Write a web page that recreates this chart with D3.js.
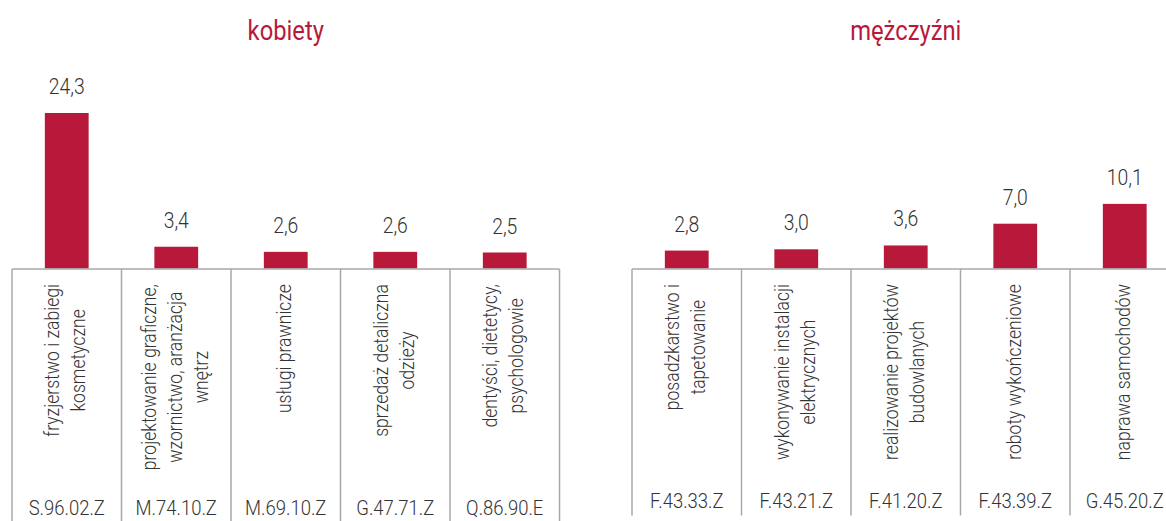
<!DOCTYPE html>
<html>
<head>
<meta charset="utf-8">
<script src="https://cdn.jsdelivr.net/npm/d3@7"></script>
<style>
  html, body { margin: 0; padding: 0; background: #fff; }
  svg { display: block; }
  text { font-family: Roboto, "Noto Sans", sans-serif; }
</style>
</head>
<body>
<svg id="chart" width="1166" height="521"></svg>
<script>
// ---- data ----
const panelTitles = ["kobiety", "mężczyźni"];

const womenCodes = ["S.96.02.Z", "M.74.10.Z", "M.69.10.Z", "G.47.71.Z", "Q.86.90.E"];
const womenLabels = [
  ["fryzjerstwo i zabiegi", "kosmetyczne"],
  ["projektowanie graficzne,", "wzornictwo, aranżacja", "wnętrz"],
  ["usługi prawnicze"],
  ["sprzedaż detaliczna", "odzieży"],
  ["dentyści, dietetycy,", "psychologowie"]
];
const womenValues = [24.3, 3.4, 2.6, 2.6, 2.5];

const menCodes = ["F.43.33.Z", "F.43.21.Z", "F.41.20.Z", "F.43.39.Z", "G.45.20.Z"];
const menLabels = [
  ["posadzkarstwo i", "tapetowanie"],
  ["wykonywanie instalacji", "elektrycznych"],
  ["realizowanie projektów", "budowlanych"],
  ["roboty wykończeniowe"],
  ["naprawa samochodów"]
];
const menValues = [2.8, 3.0, 3.6, 7.0, 10.1];

// ---- style ----
const RED = "#b8193b";
const TEXT = "#333333";
const GRID = "#a9a9a9";
const SX = 0.88; // horizontal condensing

const svg = d3.select("#chart");
const baseY = 268.5;

const y = d3.scaleLinear().domain([0, 24.3]).range([baseY, 113]);
const fmt = v => d3.format(".1f")(v).replace(".", ",");

const panels = [
  { title: panelTitles[0], codes: womenCodes, labels: womenLabels, values: womenValues,
    x0: 12, x1: 559.5, lineBottom: 530, codeY: 514.5 },
  { title: panelTitles[1], codes: menCodes, labels: menLabels, values: menValues,
    x0: 632, x1: 1179.5, lineBottom: 515.5, codeY: 507.5 }
];

panels.forEach(p => {
  const x = d3.scaleBand().domain(p.codes).range([p.x0, p.x1]).paddingInner(0).paddingOuter(0);
  const g = svg.append("g");
  const bw = x.bandwidth() * 0.4;

  // title
  g.append("text")
    .attr("transform", `translate(${(p.x0 + p.x1) / 2},40) scale(${SX},1)`)
    .attr("text-anchor", "middle")
    .attr("fill", RED)
    .style("font-size", "27px")
    .text(p.title);

  // bars
  g.selectAll("rect.bar").data(p.values).join("rect")
    .attr("class", "bar")
    .attr("x", (d, i) => x(p.codes[i]) + (x.bandwidth() - bw) / 2)
    .attr("width", bw)
    .attr("y", d => y(d))
    .attr("height", d => baseY - y(d))
    .attr("fill", RED);

  // value labels
  g.selectAll("text.val").data(p.values).join("text")
    .attr("class", "val")
    .attr("transform", (d, i) => `translate(${x(p.codes[i]) + x.bandwidth() / 2},${y(d) - 19}) scale(${SX},1)`)
    .attr("text-anchor", "middle")
    .attr("fill", TEXT)
    .style("font-size", "22px")
    .style("font-weight", 300)
    .text(d => fmt(d));

  // axis baseline
  g.append("line")
    .attr("x1", x.range()[0]).attr("x2", x.range()[1])
    .attr("y1", baseY + 0.5).attr("y2", baseY + 0.5)
    .attr("stroke", GRID).attr("stroke-width", 1.5);

  // category separators
  const bounds = p.codes.map(c => x(c)).concat([x.range()[1]]);
  g.selectAll("line.sep").data(bounds).join("line")
    .attr("class", "sep")
    .attr("x1", d => d).attr("x2", d => d)
    .attr("y1", baseY + 0.5).attr("y2", p.lineBottom)
    .attr("stroke", GRID).attr("stroke-width", 1.5);

  // codes
  g.selectAll("text.code").data(p.codes).join("text")
    .attr("class", "code")
    .attr("transform", d => `translate(${x(d) + x.bandwidth() / 2},${p.codeY}) scale(${SX},1)`)
    .attr("text-anchor", "middle")
    .attr("fill", TEXT)
    .style("font-size", "21px")
    .style("font-weight", 300)
    .text(d => d);

  // rotated category labels
  const fs = 20, lh = 26, top = 284;
  p.labels.forEach((lines, i) => {
    const cx = x(p.codes[i]) + x.bandwidth() / 2;
    const lg = g.append("g");
    const t = lg.append("text")
      .attr("text-anchor", "middle")
      .attr("fill", TEXT)
      .style("font-size", fs + "px")
      .style("font-weight", 300);
    const n = lines.length;
    const spans = lines.map((ln, k) =>
      t.append("tspan").attr("x", 0)
        .attr("y", (k - (n - 1) / 2) * lh + 0.27 * fs)
        .text(ln));
    const maxLen = d3.max(spans, s => s.node().getComputedTextLength()) * SX;
    lg.attr("transform", `translate(${cx},${top + maxLen / 2}) rotate(-90) scale(${SX},1)`);
  });
});
</script>
</body>
</html>
